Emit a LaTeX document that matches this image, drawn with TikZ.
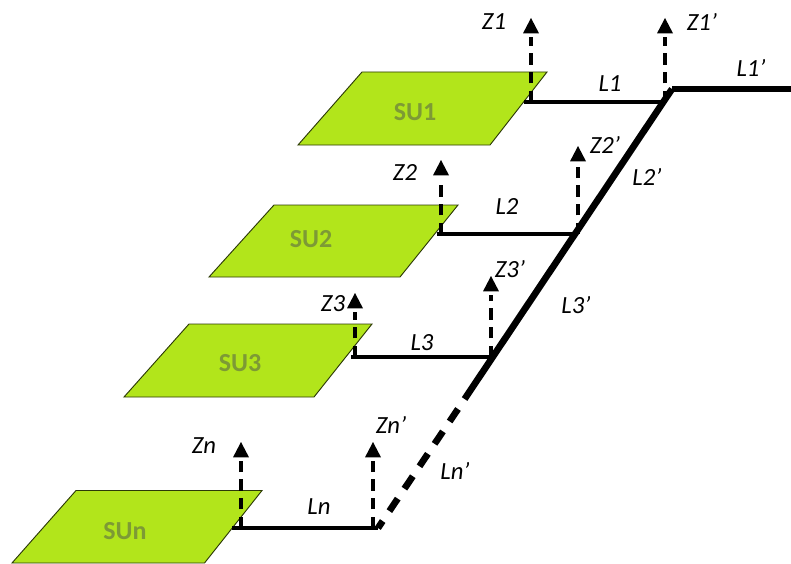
\documentclass[tikz,border=0pt]{standalone}
\usepackage{fontspec}
\setmainfont{Carlito}
\usetikzlibrary{arrows.meta}
\definecolor{sugreen}{HTML}{B2E51B}
\definecolor{sutext}{HTML}{7D9A35}
\tikzset{
  unitbox/.style={fill=sugreen,draw=black!75!sugreen,line width=0.7pt,line join=miter},
  unitlabel/.style={font=\fontsize{19.5}{22}\selectfont\bfseries,text=sutext,inner sep=0pt},
  linelabel/.style={font=\fontsize{18.5}{20}\selectfont\itshape,text=black,inner sep=0pt},
  feeder/.style={line width=2.4pt,black},
  trunk/.style={line width=5pt,black},
  trunkdash/.style={line width=5pt,black,dash pattern=on 11.25pt off 9pt},
  zstem/.style={line width=2.6pt,black,dash pattern=on 8.5pt off 5.5pt},
  zhead/.style={fill=black,draw=none},
}
\begin{document}
\begin{tikzpicture}[x=0.75pt,y=-0.75pt]
\useasboundingbox (0,0) rectangle (791,563);
% units
\path[unitbox] (362,72) -- (547,72) -- (490,145) -- (298,145) -- cycle;
\path[unitbox] (274,205) -- (458,205) -- (400,277) -- (209,277) -- cycle;
\path[unitbox] (189,324) -- (372,324) -- (314,397) -- (124,397) -- cycle;
\path[unitbox] (76,490.5) -- (262,490.5) -- (204.5,563) -- (12,563) -- cycle;
\node[unitlabel] (su1) at (415,112) {SU1};
\node[unitlabel] (su2) at (311,239) {SU2};
\node[unitlabel] (su3) at (240,363) {SU3};
\node[unitlabel] (sun) at (125,531) {SUn};
% junction coordinates
\coordinate (a1) at (524,102);
\coordinate (z1b) at (531,102);
\coordinate (z1t) at (531,18);
\coordinate (b1) at (665,102);
\coordinate (z1pt) at (665,18);
\coordinate (t1) at (672,89);
\coordinate (t0) at (791,89);
\coordinate (a2) at (437,234);
\coordinate (z2b) at (441,234);
\coordinate (z2t) at (441,160);
\coordinate (b2) at (577,234);
\coordinate (z2pb) at (578,234);
\coordinate (z2pt) at (578,146);
\coordinate (a3) at (351,357);
\coordinate (z3b) at (355,357);
\coordinate (z3t) at (355,293);
\coordinate (b3) at (493,357);
\coordinate (z3pb) at (491,357);
\coordinate (z3pt) at (491,276);
\coordinate (an) at (232,528);
\coordinate (znb) at (241,528);
\coordinate (znt) at (241,442);
\coordinate (bn) at (378,528);
\coordinate (znpb) at (373,528);
\coordinate (znpt) at (373,442);
\coordinate (ts) at (464.6,399);
\coordinate (td) at (458,409);
% z arrows: dashed stem, then a solid triangular head
\foreach \bot/\tip in {z1b/z1t,b1/z1pt,z2b/z2t,z2pb/z2pt,z3b/z3t,z3pb/z3pt,znb/znt,znpb/znpt}{
  \draw[zstem] (\bot) -- ([yshift=-14pt]\tip);
  \fill[zhead] (\tip) -- ([xshift=-6pt,yshift=-11.5pt]\tip) -- ([xshift=6pt,yshift=-11.5pt]\tip) -- cycle;
}
% feeders
\draw[feeder] (a1) -- (b1);
\draw[feeder] (a2) -- (b2);
\draw[feeder] (a3) -- (b3);
\draw[feeder] (an) -- (bn);
% trunk
\draw[trunk,line width=4pt] (t0) -- (t1);
\draw[trunk] (t1) -- (ts);
\draw[trunkdash] (td) -- (bn);
% labels
\node[linelabel] (lz1) at (494,22) {Z1};
\node[linelabel] (lz1p) at (702,22) {Z1’};
\node[linelabel] (ll1) at (610,84) {L1};
\node[linelabel] (ll1p) at (751,68) {L1’};
\node[linelabel] (lz2) at (405,173) {Z2};
\node[linelabel] (lz2p) at (605,145) {Z2’};
\node[linelabel] (ll2) at (507,207) {L2};
\node[linelabel] (ll2p) at (647,177) {L2’};
\node[linelabel] (lz3) at (333,304) {Z3};
\node[linelabel] (lz3p) at (510,269) {Z3’};
\node[linelabel] (ll3) at (422,343) {L3};
\node[linelabel] (ll3p) at (576,305) {L3’};
\node[linelabel] (lzn) at (204,446) {Zn};
\node[linelabel] (lznp) at (391,425) {Zn’};
\node[linelabel] (lln) at (319,507) {Ln};
\node[linelabel] (llnp) at (455,471) {Ln’};
\end{tikzpicture}
\end{document}
